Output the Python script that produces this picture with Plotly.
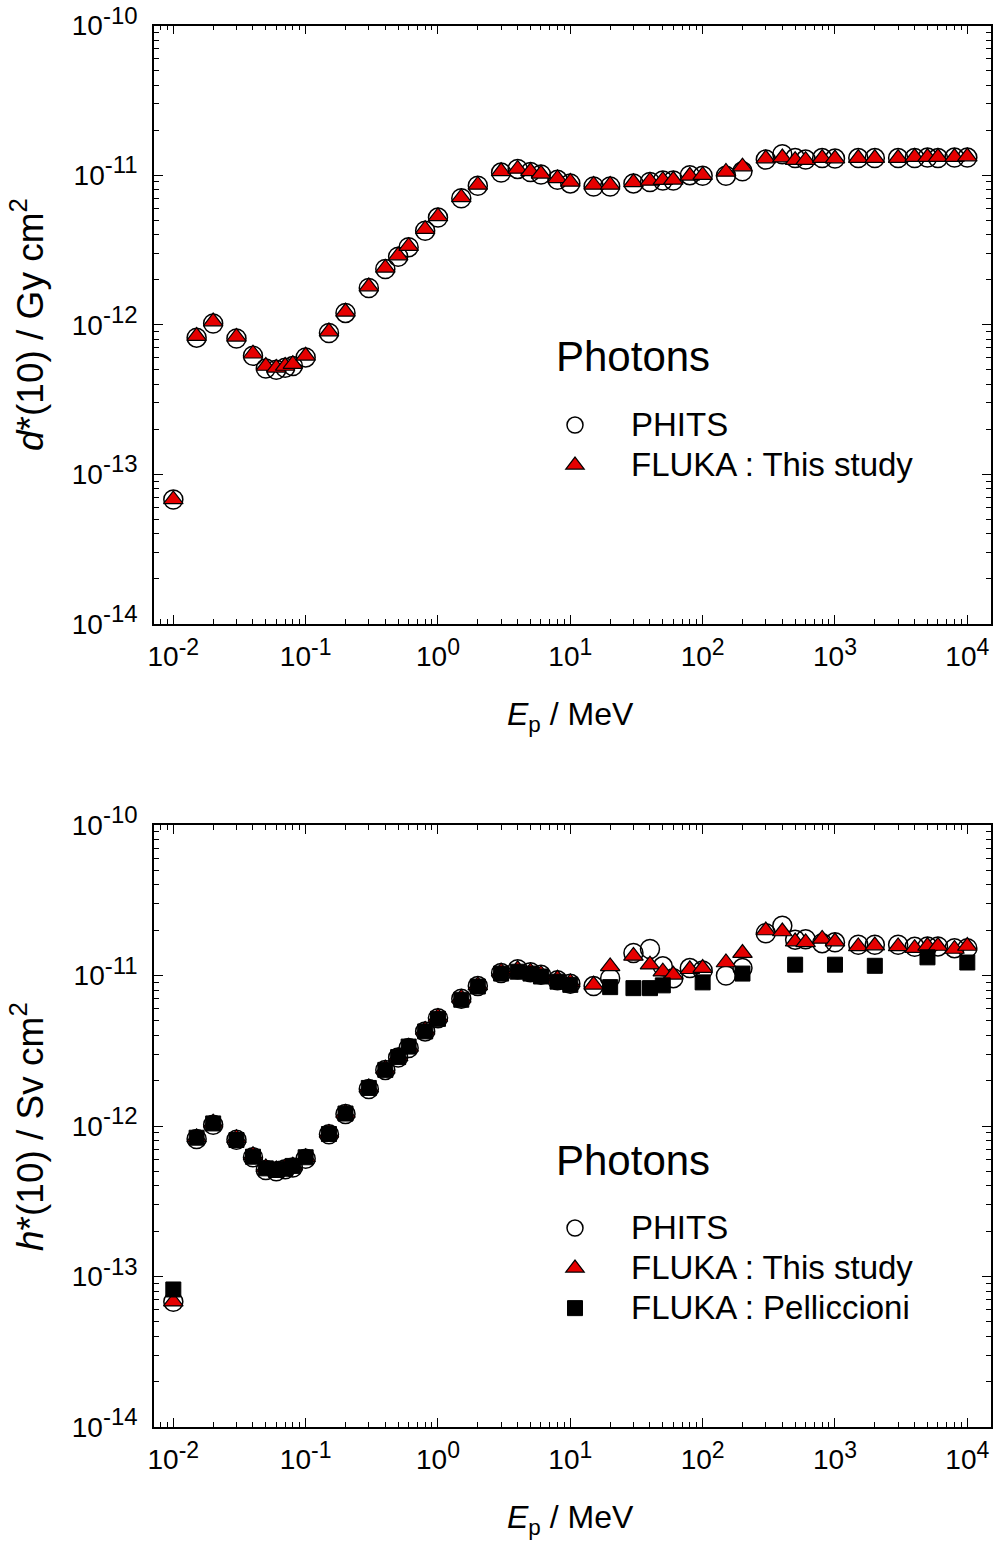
import plotly.graph_objects as go

# ---------------- data ----------------
energy = [0.01, 0.015, 0.02, 0.03, 0.04, 0.05, 0.06, 0.07, 0.08, 0.1,
          0.15, 0.2, 0.3, 0.4, 0.5, 0.6, 0.8, 1, 1.5, 2,
          3, 4, 5, 6, 8, 10, 15, 20, 30, 40,
          50, 60, 80, 100, 150, 200, 300, 400, 500, 600,
          800, 1000, 1500, 2000, 3000, 4000, 5000, 6000, 8000, 10000]

d_phits = [6.8e-14, 8.2e-13, 1.02e-12, 8.1e-13, 6.2e-13, 5.1e-13, 5.0e-13, 5.15e-13, 5.3e-13, 6.05e-13,
           8.8e-13, 1.2e-12, 1.76e-12, 2.36e-12, 2.85e-12, 3.3e-12, 4.25e-12, 5.2e-12, 7.0e-12, 8.5e-12,
           1.04e-11, 1.10e-11, 1.05e-11, 1.01e-11, 9.3e-12, 8.8e-12, 8.4e-12, 8.4e-12, 8.8e-12, 9.0e-12,
           9.2e-12, 9.2e-12, 1.0e-11, 9.9e-12, 9.9e-12, 1.06e-11, 1.27e-11, 1.38e-11, 1.30e-11, 1.27e-11,
           1.30e-11, 1.29e-11, 1.30e-11, 1.30e-11, 1.30e-11, 1.30e-11, 1.31e-11, 1.30e-11, 1.31e-11, 1.31e-11]

d_fluka = [6.8e-14, 8.4e-13, 1.05e-12, 8.3e-13, 6.4e-13, 5.3e-13, 5.15e-13, 5.3e-13, 5.45e-13, 6.2e-13,
           9.0e-13, 1.22e-12, 1.80e-12, 2.40e-12, 2.90e-12, 3.35e-12, 4.35e-12, 5.3e-12, 7.1e-12, 8.6e-12,
           1.06e-11, 1.10e-11, 1.06e-11, 1.02e-11, 9.5e-12, 9.0e-12, 8.6e-12, 8.6e-12, 8.95e-12, 9.15e-12,
           9.25e-12, 9.3e-12, 9.9e-12, 1.0e-11, 1.05e-11, 1.14e-11, 1.29e-11, 1.31e-11, 1.26e-11, 1.26e-11,
           1.30e-11, 1.29e-11, 1.30e-11, 1.30e-11, 1.30e-11, 1.32e-11, 1.32e-11, 1.32e-11, 1.32e-11, 1.33e-11]

h_phits = [6.8e-14, 8.2e-13, 1.02e-12, 8.1e-13, 6.2e-13, 5.1e-13, 5.0e-13, 5.15e-13, 5.3e-13, 6.05e-13,
           8.8e-13, 1.2e-12, 1.76e-12, 2.36e-12, 2.85e-12, 3.3e-12, 4.25e-12, 5.2e-12, 7.0e-12, 8.5e-12,
           1.04e-11, 1.10e-11, 1.05e-11, 1.01e-11, 9.3e-12, 8.8e-12, 8.5e-12, 9.6e-12, 1.41e-11, 1.50e-11,
           1.15e-11, 9.6e-12, 1.12e-11, 1.08e-11, 1.0e-11, 1.12e-11, 1.91e-11, 2.14e-11, 1.73e-11, 1.74e-11,
           1.64e-11, 1.66e-11, 1.60e-11, 1.60e-11, 1.60e-11, 1.55e-11, 1.56e-11, 1.56e-11, 1.52e-11, 1.52e-11]

h_fluka = [6.8e-14, 8.4e-13, 1.05e-12, 8.3e-13, 6.4e-13, 5.3e-13, 5.15e-13, 5.3e-13, 5.45e-13, 6.2e-13,
           9.0e-13, 1.22e-12, 1.80e-12, 2.40e-12, 2.90e-12, 3.35e-12, 4.35e-12, 5.3e-12, 7.1e-12, 8.6e-12,
           1.06e-11, 1.10e-11, 1.06e-11, 1.02e-11, 9.5e-12, 9.0e-12, 8.67e-12, 1.15e-11, 1.35e-11, 1.18e-11,
           1.06e-11, 1.01e-11, 1.10e-11, 1.12e-11, 1.22e-11, 1.41e-11, 1.99e-11, 1.96e-11, 1.68e-11, 1.66e-11,
           1.75e-11, 1.68e-11, 1.56e-11, 1.58e-11, 1.56e-11, 1.52e-11, 1.57e-11, 1.57e-11, 1.50e-11, 1.57e-11]

pell_energy = [0.01, 0.015, 0.02, 0.03, 0.04, 0.05, 0.06, 0.07, 0.08, 0.1,
               0.15, 0.2, 0.3, 0.4, 0.5, 0.6, 0.8, 1, 1.5, 2,
               3, 4, 5, 6, 8, 10, 20, 30, 40, 50,
               100, 200, 500, 1000, 2000, 5000, 10000]
h_pell = [8.2e-14, 8.36e-13, 1.04e-12, 8.07e-13, 6.25e-13, 5.23e-13, 5.1e-13, 5.2e-13, 5.43e-13, 6.2e-13,
          8.85e-13, 1.21e-12, 1.79e-12, 2.36e-12, 2.87e-12, 3.37e-12, 4.25e-12, 5.15e-12, 6.9e-12, 8.45e-12,
          1.03e-11, 1.06e-11, 1.03e-11, 9.85e-12, 9.1e-12, 8.67e-12, 8.37e-12, 8.24e-12, 8.24e-12, 8.6e-12,
          9.0e-12, 1.03e-11, 1.18e-11, 1.18e-11, 1.16e-11, 1.32e-11, 1.22e-11]

x_tick_vals = [1e-2, 1e-1, 1e0, 1e1, 1e2, 1e3, 1e4]
x_tick_exps = ["-2", "-1", "0", "1", "2", "3", "4"]
y_tick_vals = [1e-14, 1e-13, 1e-12, 1e-11, 1e-10]
y_tick_exps = ["-14", "-13", "-12", "-11", "-10"]

series_names = ["PHITS", "FLUKA : This study", "FLUKA : Pelliccioni"]

# ---------------- styling ----------------
W, H = 997, 1548
FONT = "Liberation Sans, Arial, sans-serif"
RED = "#e60000"

def pow_label(e, sup):
    return "10<sup><span style='font-size:%dpx'>%s</span></sup>" % (sup, e)

x_tick_text = [pow_label(e, 23) for e in x_tick_exps]
y_tick_text = [pow_label(e, 24) for e in y_tick_exps]

x_minor = [k * 10.0 ** n for n in range(-3, 5) for k in range(2, 10)]
y_minor = [k * 10.0 ** n for n in range(-15, -9) for k in range(2, 10)]

def legend_name(s):
    return "<span style='font-size:33px'>%s</span>" % s

fig = go.Figure()

def add_series(xa, ya, xs, ys, name, symbol, size, fill, lw, legend):
    fig.add_trace(go.Scatter(
        x=xs, y=ys, mode="markers", name=legend_name(name), xaxis=xa, yaxis=ya,
        legend=legend,
        marker=dict(symbol=symbol, size=size, color=fill,
                    line=dict(color="black", width=lw)),
    ))

# top panel
add_series("x", "y", energy, d_phits, series_names[0], "circle", 19, "rgba(255,255,255,0)", 1.5, "legend")
add_series("x", "y", energy, d_fluka, series_names[1], "triangle-up", 17, RED, 1.2, "legend")
# bottom panel
add_series("x2", "y2", energy, h_phits, series_names[0], "circle", 19, "rgba(255,255,255,0)", 1.5, "legend2")
add_series("x2", "y2", energy, h_fluka, series_names[1], "triangle-up", 17, RED, 1.2, "legend2")
add_series("x2", "y2", pell_energy, h_pell, series_names[2], "square", 15, "black", 1, "legend2")

def px_x(p):
    return p / W

def px_y(p):
    return 1 - p / H

xdom = [px_x(154), px_x(991)]
top_dom = [px_y(624), px_y(25.5)]
bot_dom = [px_y(1427), px_y(825)]

def xaxis_cfg(anchor):
    return dict(type="log", range=[-2.146, 4.179], domain=xdom, anchor=anchor,
                automargin=False, ticklabeloverflow="allow",
                showline=True, linecolor="black", linewidth=1.5, mirror="ticks",
                ticks="inside", ticklen=9, tickwidth=1.3, tickcolor="black",
                tickmode="array", tickvals=x_tick_vals, ticktext=x_tick_text,
                ticklabelstandoff=7,
                tickfont=dict(family=FONT, size=28, color="black"),
                showgrid=False, zeroline=False,
                minor=dict(tickmode="array", tickvals=x_minor, ticks="inside",
                           ticklen=5, tickwidth=1.2, tickcolor="black", showgrid=False))

def yaxis_cfg(anchor, dom):
    return dict(type="log", range=[-14, -10], domain=dom, anchor=anchor,
                automargin=False, ticklabeloverflow="allow",
                showline=True, linecolor="black", linewidth=1.5, mirror="ticks",
                ticks="inside", ticklen=9, tickwidth=1.3, tickcolor="black",
                tickmode="array", tickvals=y_tick_vals, ticktext=y_tick_text,
                ticklabelstandoff=9,
                tickfont=dict(family=FONT, size=28, color="black"),
                showgrid=False, zeroline=False,
                minor=dict(tickmode="array", tickvals=y_minor, ticks="inside",
                           ticklen=5, tickwidth=1.2, tickcolor="black", showgrid=False))

legend_common = dict(xanchor="left", yanchor="top", bgcolor="rgba(0,0,0,0)",
                     borderwidth=0, font=dict(family=FONT, size=28.5, color="black"),
                     itemwidth=102, tracegroupgap=0, traceorder="normal")

annotations = []
for (yc, txt) in [(325, "<i>d</i>*(10) / Gy cm<sup>2</sup>"), (1127, "<i>h</i>*(10) / Sv cm<sup>2</sup>")]:
    annotations.append(dict(text=txt, x=px_x(27), y=px_y(yc), xref="paper", yref="paper",
                            textangle=-90, showarrow=False, xanchor="center", yanchor="middle",
                            font=dict(family=FONT, size=37, color="black")))
for yc in [716, 1519]:
    annotations.append(dict(text="<i>E</i><sub>p</sub> / MeV", x=px_x(570), y=px_y(yc),
                            xref="paper", yref="paper", showarrow=False,
                            xanchor="center", yanchor="middle",
                            font=dict(family=FONT, size=32, color="black")))
for yc in [357, 1160]:
    annotations.append(dict(text="Photons", x=px_x(554), y=px_y(yc), xref="paper", yref="paper",
                            showarrow=False, xanchor="left", yanchor="middle",
                            font=dict(family=FONT, size=42, color="black")))

fig.update_layout(
    template="none",
    width=W, height=H, margin=dict(l=0, r=0, t=0, b=0, autoexpand=False),
    paper_bgcolor="white", plot_bgcolor="white",
    font=dict(family=FONT, color="black"),
    xaxis=xaxis_cfg("y"), yaxis=yaxis_cfg("x", top_dom),
    xaxis2=xaxis_cfg("y2"), yaxis2=yaxis_cfg("x2", bot_dom),
    legend=dict(x=px_x(519), y=px_y(400), **legend_common),
    legend2=dict(x=px_x(519), y=px_y(1203), **legend_common),
    annotations=annotations,
    showlegend=True,
)

fig.write_html("out.html")
